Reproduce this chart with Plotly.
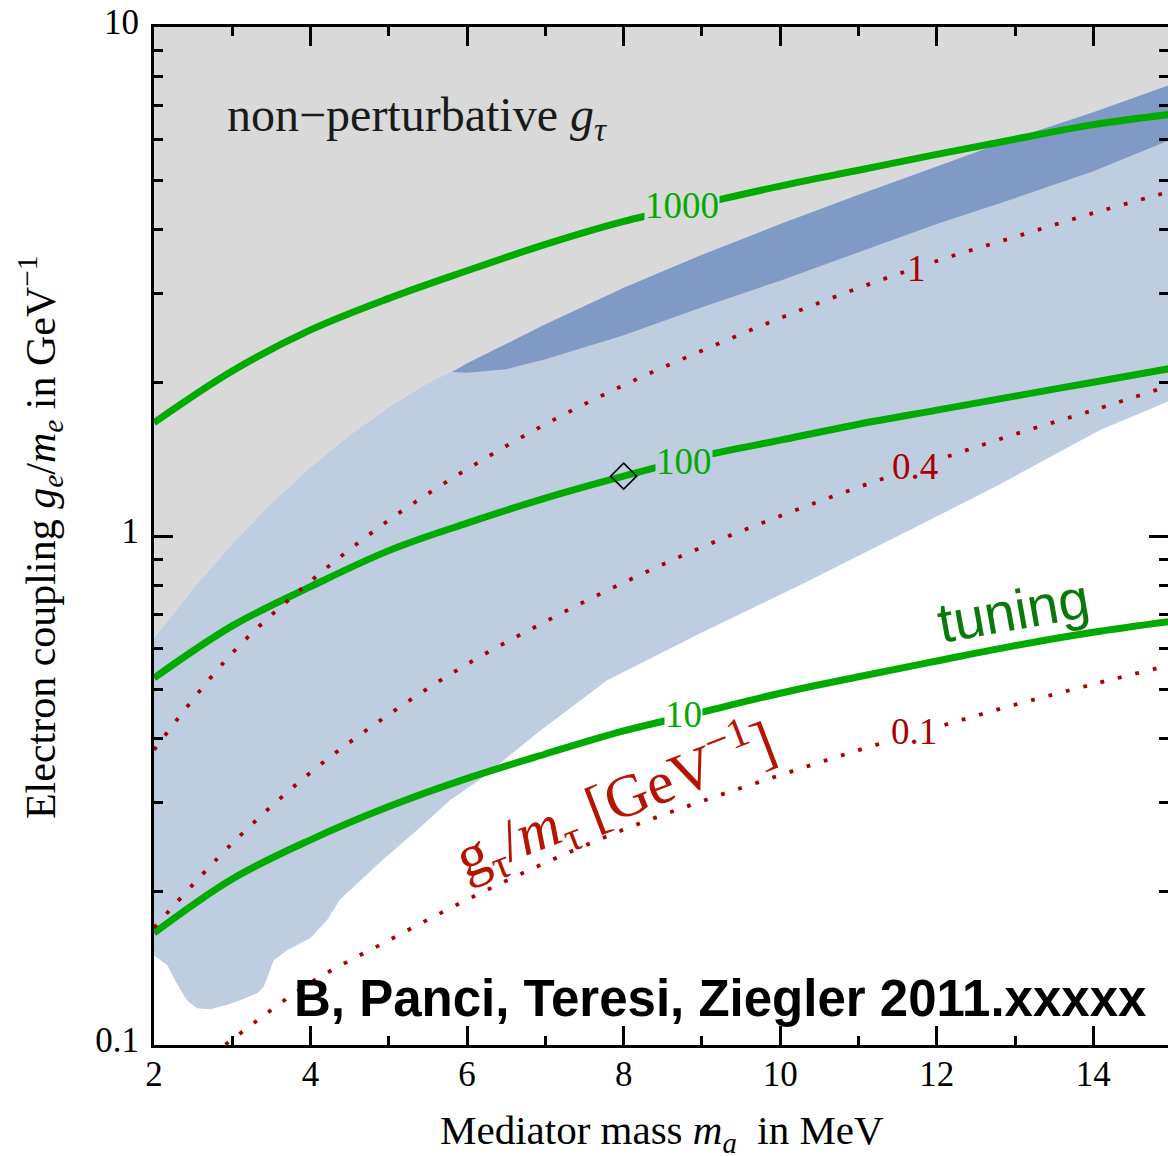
import math
import plotly.graph_objects as go

# ---- axis grid -------------------------------------------------------------
mass = [2, 3, 4, 5, 6, 7, 8, 9, 10, 11, 12, 13, 14, 15]           # MeV
x_major = [2, 4, 6, 8, 10, 12, 14]
x_minor = [3, 5, 7, 9, 11, 13, 15]
y_major = [0.1, 1, 10]
y_major_text = ["0.1", "1", "10"]
y_minor = [0.2, 0.3, 0.4, 0.5, 0.6, 0.7, 0.8, 0.9, 2, 3, 4, 5, 6, 7, 8, 9]

# ---- tuning contours (g_e/m_e in GeV^-1) -----------------------------------
tuning_1000 = [1.67, 2.11, 2.54, 2.93, 3.32, 3.74, 4.15, 4.50, 4.87, 5.23, 5.62, 6.02, 6.43, 6.74]
tuning_100 = [0.526, 0.666, 0.795, 0.936, 1.06, 1.187, 1.311, 1.435, 1.543, 1.658, 1.767, 1.883, 2.005, 2.136]
tuning_10 = [0.166, 0.212, 0.253, 0.294, 0.334, 0.373, 0.414, 0.451, 0.491, 0.529, 0.568, 0.609, 0.647, 0.680]

# ---- g_tau/m_tau contours ----------------------------------------------------
gtau_1 = [0.380, 0.589, 0.815, 1.074, 1.353, 1.658, 1.978, 2.313, 2.680, 3.070, 3.470, 3.870, 4.310, 4.760]
gtau_04 = [0.170, 0.249, 0.343, 0.446, 0.560, 0.679, 0.810, 0.951, 1.095, 1.247, 1.409, 1.585, 1.767, 1.980]
gtau_01 = [0.078, 0.1026, 0.1326, 0.1606, 0.193, 0.228, 0.265, 0.3013, 0.339, 0.3795, 0.421, 0.4662, 0.5115, 0.5586]

# ---- perturbativity boundary (above: non-perturbative g_tau) ----------------
pert_x = [2, 2.5, 3, 3.5, 4, 4.5, 5, 5.5, 6, 7, 8, 9, 10, 11, 12, 13, 14, 15]
pert_y = [0.63, 0.789, 0.967, 1.16, 1.366, 1.579, 1.792, 1.997, 2.184, 2.605, 3.075, 3.57, 4.1, 4.68, 5.32, 6.05, 6.8, 7.72]

# ---- lower edge of the light-blue band ---------------------------------------
band_x = [2.0, 2.17, 2.29, 2.42, 2.55, 2.72, 2.93, 3.10, 3.32, 3.40, 3.53, 3.70, 4.00, 4.21,
          4.38, 4.93, 5.36, 5.78, 6.17, 6.93, 7.79, 8.98, 10.25, 11.53, 12.81, 14.08, 15.0]
band_low = [0.150, 0.1435, 0.1322, 0.1225, 0.1181, 0.1176, 0.1198, 0.1225, 0.1264, 0.130, 0.1467,
            0.1536, 0.1622, 0.1758, 0.1934, 0.2317, 0.2642, 0.3027, 0.3328, 0.414, 0.5208, 0.644,
            0.80, 1.004, 1.264, 1.614, 1.85]

# ---- lower edge of the dark-blue band (upper edge = perturbativity boundary) --
dark_x = [5.81, 6.0, 6.5, 7, 8, 9, 10, 11, 12, 13, 14, 15]
dark_low = [2.10, 2.093, 2.127, 2.225, 2.48, 2.815, 3.174, 3.61, 4.1, 4.61, 5.21, 6.02]

# benchmark point
bench_x = [8]
bench_y = [tuning_100[mass.index(8)]]

Y_TOP = 20  # beyond the visible range, clipped by the axes

GRAY = "#d9d9d9"
LIGHT_BLUE = "#bfcde0"
DARK_BLUE = "#7f9bc5"
GREEN = "#00aa00"
DARK_GREEN = "#0a780a"
RED = "#aa0000"
LABEL_RED = "#b41400"
SERIF = "Liberation Serif"
SANS = "Liberation Sans"

fig = go.Figure()

# shaded regions
fig.add_trace(go.Scatter(
    x=pert_x + [pert_x[-1], pert_x[0]],
    y=pert_y + [Y_TOP, Y_TOP],
    fill="toself", fillcolor=GRAY, mode="none", hoverinfo="skip"))
fig.add_trace(go.Scatter(
    x=band_x + pert_x[::-1],
    y=band_low + pert_y[::-1],
    fill="toself", fillcolor=LIGHT_BLUE, mode="none", hoverinfo="skip"))
upper_x = [x for x in pert_x if x > dark_x[0]]
upper_y = [y for x, y in zip(pert_x, pert_y) if x > dark_x[0]]
fig.add_trace(go.Scatter(
    x=dark_x + upper_x[::-1],
    y=dark_low + upper_y[::-1],
    fill="toself", fillcolor=DARK_BLUE, mode="none", hoverinfo="skip"))

# tuning contours
for ys in (tuning_1000, tuning_100, tuning_10):
    fig.add_trace(go.Scatter(
        x=mass, y=ys, mode="lines",
        line=dict(color=GREEN, width=7, shape="spline", smoothing=1.0),
        hoverinfo="skip"))

# g_tau/m_tau contours
for ys in (gtau_1, gtau_04, gtau_01):
    fig.add_trace(go.Scatter(
        x=mass, y=ys, mode="lines",
        line=dict(color=RED, width=3.8, dash="3.8px,14.2px", shape="spline", smoothing=1.0),
        hoverinfo="skip"))

# benchmark marker
fig.add_trace(go.Scatter(
    x=bench_x, y=bench_y, mode="markers",
    marker=dict(symbol="diamond-open", size=20, color="black", line=dict(width=1.6, color="black")),
    hoverinfo="skip"))

# carrier for the right-hand tick column
fig.add_trace(go.Scatter(x=[2], y=[1], yaxis="y2", mode="markers",
                         marker=dict(opacity=0), hoverinfo="skip"))

# contour labels (box colour = local background, so the curve is interrupted)
contour_labels = [
    ("1000", 8.747, 4.45, GREEN, GRAY),
    ("100", 8.77, 1.40, GREEN, LIGHT_BLUE),
    ("10", 8.76, 0.445, GREEN, "white"),
    ("1", 11.735, 3.36, RED, LIGHT_BLUE),
    ("0.4", 11.72, 1.37, RED, LIGHT_BLUE),
    ("0.1", 11.71, 0.413, RED, "white"),
]
annotations = []
for text, x, y, col, bg in contour_labels:
    annotations.append(dict(
        x=x, y=math.log10(y), xref="x", yref="y", text=text, showarrow=False,
        font=dict(family=SERIF, size=37, color=col), bgcolor=bg, borderpad=0,
        xanchor="center", yanchor="middle"))

annotations += [
    dict(x=2.913, y=0.821, xref="x", yref="y", xanchor="left", yanchor="middle",
         text="non\u2212perturbative <i>g<sub>\u03c4</sub></i>", showarrow=False,
         font=dict(family=SERIF, size=48, color="#1a1a1a")),
    dict(x=12.976, y=-0.146, xref="x", yref="y", xanchor="center", yanchor="middle",
         text="tuning", textangle=-10, showarrow=False,
         font=dict(family=SANS, size=56, color=DARK_GREEN)),
    dict(x=7.891, y=-0.519, xref="x", yref="y", xanchor="center", yanchor="middle",
         text="g<sub>\u03c4</sub>/<i>m</i><sub>\u03c4</sub> [GeV<sup>\u22121</sup>]",
         textangle=-21, showarrow=False,
         font=dict(family=SERIF, size=60, color=LABEL_RED)),
    dict(x=9.232, y=-0.908, xref="x", yref="y", xanchor="center", yanchor="middle",
         text="<b>B, Panci, Teresi, Ziegler 2011.xxxxx</b>", showarrow=False,
         font=dict(family=SANS, size=51, color="black")),
    dict(x=0.501, y=-0.086, xref="paper", yref="paper", xanchor="center", yanchor="middle",
         text="Mediator mass <i>m<sub>a</sub></i>  in MeV", showarrow=False,
         font=dict(family=SERIF, size=41, color="black")),
    dict(x=-0.1124, y=0.499, xref="paper", yref="paper", xanchor="center", yanchor="middle",
         text="Electron coupling <i>g<sub>e</sub></i>/<i>m<sub>e</sub></i> in GeV<sup>\u22121</sup>",
         textangle=-90, showarrow=False,
         font=dict(family=SERIF, size=42, color="black")),
]

tick_font = dict(family=SERIF, size=35, color="black")

fig.update_layout(
    width=1168, height=1156,
    margin=dict(l=154, r=0, t=27, b=111),
    plot_bgcolor="white", paper_bgcolor="white",
    showlegend=False,
    annotations=annotations,
    xaxis=dict(
        range=[2, 14.954], tickvals=x_major, ticks="inside", ticklen=19, tickwidth=3,
        tickcolor="black", showline=True, linewidth=3, linecolor="black", mirror="ticks",
        showgrid=False, zeroline=False, tickfont=tick_font, ticklabelstandoff=-4,
        minor=dict(tickvals=x_minor, ticks="inside", ticklen=9, tickwidth=2.5,
                   tickcolor="black", showgrid=False)),
    yaxis=dict(
        type="log", range=[-1, 1], tickvals=y_major, ticktext=y_major_text,
        ticks="inside", ticklen=19, tickwidth=3, tickcolor="black",
        showline=True, linewidth=3, linecolor="black", mirror=False,
        showgrid=False, zeroline=False, tickfont=tick_font,
        ticklabelstandoff=5, ticklabelshift=-5,
        minor=dict(tickvals=y_minor, ticks="inside", ticklen=9, tickwidth=2.5,
                   tickcolor="black", showgrid=False)),
    yaxis2=dict(
        type="log", range=[-1, 1], overlaying="y", side="right", anchor="x",
        tickvals=y_major, ticks="inside", ticklen=19, tickwidth=3, tickcolor="black",
        showticklabels=False, showline=False, showgrid=False, zeroline=False,
        minor=dict(tickvals=y_minor, ticks="inside", ticklen=9, tickwidth=2.5,
                   tickcolor="black", showgrid=False)),
)

fig.write_html("out.html")
